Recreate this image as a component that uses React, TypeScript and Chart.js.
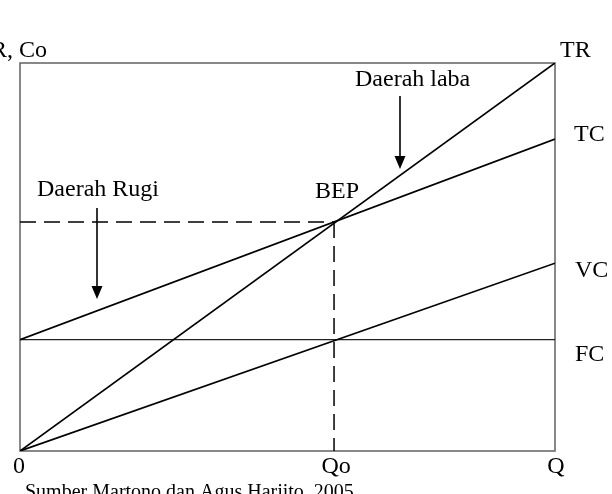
import React, { useEffect, useRef } from "react";
import { Chart, registerables } from "chart.js";

Chart.register(...registerables);

// Quantity axis (0..100) and value axis (0..100)
const qTickValues = [0, 58.7, 100];
const qTickLabels = ["0", "Qo", "Q"];
const qEnds = [0, 100];
const trValues = [0, 100];
const tcValues = [28.7, 80.4];
const vcValues = [0, 48.4];
const fcValues = [28.7, 28.7];
const bepQ = 58.7;
const bepValue = 59.0;
const lineLabels = ["TR", "TC", "VC", "FC"];

const FONT = '24px "Liberation Serif", "DejaVu Serif", serif';

const annotationPlugin = {
  id: "bepAnnotations",
  beforeDatasetsDraw(chart: any) {
    const { ctx, chartArea } = chart;
    ctx.save();
    ctx.strokeStyle = "#6b6b6b";
    ctx.lineWidth = 1.6;
    ctx.strokeRect(chartArea.left, chartArea.top, chartArea.right - chartArea.left, chartArea.bottom - chartArea.top);
    ctx.restore();
  },
  afterDraw(chart: any) {
    const { ctx } = chart;
    const xs = chart.scales.x;
    const ys = chart.scales.y;
    const px = (v: number) => xs.getPixelForValue(v);
    const py = (v: number) => ys.getPixelForValue(v);
    ctx.save();
    ctx.fillStyle = "#000";
    ctx.font = FONT;
    ctx.textBaseline = "alphabetic";

    // y-axis title (partly cut at the left edge)
    ctx.textAlign = "right";
    ctx.fillText("TR, Co", px(0) + 27, py(100) - 6);

    // line end labels
    ctx.textAlign = "left";
    const right = px(100);
    ctx.fillText(lineLabels[0], right + 5, py(trValues[1]) - 6);
    ctx.fillText(lineLabels[1], right + 19, py(tcValues[1]) + 2);
    ctx.fillText(lineLabels[2], right + 20, py(vcValues[1]) + 14);
    ctx.fillText(lineLabels[3], right + 20, py(fcValues[1]) + 21);

    // x ticks
    ctx.textAlign = "center";
    const base = py(0) + 22;
    qTickValues.forEach((v, i) => {
      ctx.fillText(qTickLabels[i], px(v) + (i === 1 ? 2 : i === 0 ? -1 : 1), base);
    });

    // region labels
    ctx.textAlign = "left";
    ctx.fillText("BEP", px(bepQ) - 19, py(bepValue) - 24);
    ctx.fillText("Daerah laba", 355, 86);
    ctx.fillText("Daerah Rugi", 37, 196);

    // arrows
    const arrow = (x: number, y1: number, y2: number) => {
      ctx.strokeStyle = "#000";
      ctx.lineWidth = 1.6;
      ctx.beginPath();
      ctx.moveTo(x, y1);
      ctx.lineTo(x, y2 - 11);
      ctx.stroke();
      ctx.beginPath();
      ctx.moveTo(x - 5.5, y2 - 13);
      ctx.lineTo(x + 5.5, y2 - 13);
      ctx.lineTo(x, y2);
      ctx.closePath();
      ctx.fill();
    };
    arrow(400, 96, 169);
    arrow(97, 208, 299);

    // source
    ctx.font = '20px "Liberation Serif", "DejaVu Serif", serif';
    ctx.fillText("Sumber Martono dan Agus Harjito, 2005", 25, 498);
    ctx.restore();
  },
};

const pts = (ys: number[]) => qEnds.map((q, i) => ({ x: q, y: ys[i] }));

export default function App() {
  const ref = useRef<HTMLCanvasElement | null>(null);
  useEffect(() => {
    if (!ref.current) return;
    const lineStyle = { borderColor: "#000", borderWidth: 1.7, pointRadius: 0, fill: false, tension: 0 };
    const chart = new Chart(ref.current, {
      type: "line",
      data: {
        datasets: [
          { label: "TR", data: pts(trValues), ...lineStyle },
          { label: "TC", data: pts(tcValues), ...lineStyle },
          { label: "VC", data: pts(vcValues), ...lineStyle },
          { label: "FC", data: pts(fcValues), ...lineStyle, borderColor: "#222", borderWidth: 1.3 },
          {
            label: "BEP-h",
            data: [
              { x: 0, y: bepValue },
              { x: bepQ, y: bepValue },
            ],
            ...lineStyle,
            borderWidth: 1.5,
            borderDash: [16, 8],
          },
          {
            label: "BEP-v",
            data: [
              { x: bepQ, y: bepValue },
              { x: bepQ, y: 0 },
            ],
            ...lineStyle,
            borderWidth: 1.5,
            borderDash: [16, 8],
          },
        ],
      },
      options: {
        responsive: false,
        animation: false,
        layout: { padding: { left: 20, right: 57, top: 63, bottom: 43 } },
        plugins: { legend: { display: false }, tooltip: { enabled: false }, title: { display: false } },
        scales: {
          x: { type: "linear", min: 0, max: 100, display: false },
          y: { type: "linear", min: 0, max: 100, display: false },
        },
      },
      plugins: [annotationPlugin],
    });
    return () => chart.destroy();
  }, []);
  return (
    <div style={{ position: "fixed", left: 0, top: 0, width: 612, height: 494, background: "#fff" }}>
      <canvas ref={ref} width={612} height={494} style={{ display: "block" }} />
    </div>
  );
}
